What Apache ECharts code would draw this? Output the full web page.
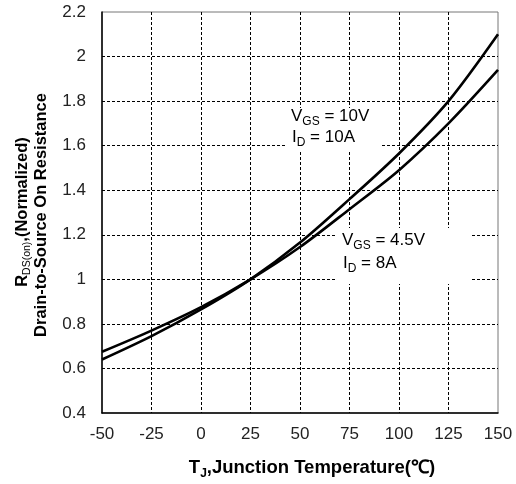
<!DOCTYPE html>
<html>
<head>
<meta charset="utf-8">
<script src="https://cdn.jsdelivr.net/npm/echarts@6/dist/echarts.min.js"></script>
<style>
html,body{margin:0;padding:0;background:#fff;}
#chart{width:516px;height:484px;}
</style>
</head>
<body>
<div id="chart"></div>
<script>
// Data
var temperatures = [-50, -25, 0, 25, 50, 75, 100, 125, 150];
var rdsSteep = [0.640, 0.745, 0.865, 1.000, 1.165, 1.360, 1.565, 1.800, 2.100];
var rdsFlat  = [0.675, 0.770, 0.875, 1.000, 1.145, 1.315, 1.490, 1.700, 1.940];
var xTicks = [-50, 150, 25];
var yTicks = [0.4, 2.2, 0.2];

function pairs(xs, ys) { return xs.map(function (x, i) { return [x, ys[i]]; }); }

var FONT = 'Liberation Sans';
var chart = echarts.init(document.getElementById('chart'), null, {renderer: 'canvas'});

var rich = {
  n: {fontFamily: FONT, fontSize: 17, color: '#111', lineHeight: 19, verticalAlign: 'bottom'},
  s: {fontFamily: FONT, fontSize: 12, color: '#111', lineHeight: 12, verticalAlign: 'bottom', padding: [0, 0, -3, 0]}
};
var richY = {
  n: {fontFamily: FONT, fontSize: 16.5, fontWeight: 'bold', color: '#000', lineHeight: 18, verticalAlign: 'bottom'},
  s: {fontFamily: FONT, fontSize: 10.5, fontWeight: 'normal', color: '#000', lineHeight: 11, verticalAlign: 'bottom', padding: [0, 0, -2, 0]}
};
var richX = {
  n: {fontFamily: FONT, fontSize: 18.5, fontWeight: 'bold', color: '#000', lineHeight: 20, verticalAlign: 'bottom'},
  s: {fontFamily: FONT, fontSize: 12, fontWeight: 'bold', color: '#000', lineHeight: 12, verticalAlign: 'bottom', padding: [0, 0, -3, 0]}
};

var option = {
  backgroundColor: '#fff',
  animation: false,
  grid: {left: 102, right: 18, top: 12, bottom: 71, show: true, borderColor: '#777', borderWidth: 1, outerBoundsMode: 'none'},
  xAxis: {
    type: 'value', min: xTicks[0], max: xTicks[1], interval: xTicks[2],
    axisLine: {show: true, onZero: false, lineStyle: {color: '#000', width: 1.5}},
    axisTick: {show: false},
    axisLabel: {fontFamily: FONT, fontSize: 17, color: '#222', margin: 13},
    splitLine: {show: true, showMinLine: false, showMaxLine: false, lineStyle: {color: '#000', type: [3, 2], width: 1}}
  },
  yAxis: {
    type: 'value', min: yTicks[0], max: yTicks[1], interval: yTicks[2],
    axisLine: {show: true, onZero: false, lineStyle: {color: '#000', width: 1.5}},
    axisTick: {show: false},
    axisLabel: {fontFamily: FONT, fontSize: 17, color: '#222', margin: 16,
      formatter: function (v) { return String(Math.round(v * 10) / 10); }},
    splitLine: {show: true, showMinLine: false, showMaxLine: false, lineStyle: {color: '#000', type: [3, 2], width: 1}}
  },
  series: [
    {type: 'line', data: pairs(temperatures, rdsSteep), smooth: 0.3, showSymbol: false,
     lineStyle: {color: '#000', width: 2.6}, z: 5},
    {type: 'line', data: pairs(temperatures, rdsFlat), smooth: 0.3, showSymbol: false,
     lineStyle: {color: '#000', width: 2.6}, z: 5}
  ],
  graphic: [
    {type: 'rect', z: 50, shape: {x: 287, y: 108, width: 94, height: 44}, style: {fill: '#fff'}},
    {type: 'text', z: 60, left: 291, top: 108, style: {text: '{n|V}{s|GS}{n| = 10V}', rich: rich}},
    {type: 'text', z: 60, left: 292, top: 129, style: {text: '{n|I}{s|D}{n| = 10A}', rich: rich}},
    {type: 'rect', z: 50, shape: {x: 336, y: 228, width: 134, height: 56}, style: {fill: '#fff'}},
    {type: 'text', z: 60, left: 342, top: 232, style: {text: '{n|V}{s|GS}{n| = 4.5V}', rich: rich}},
    {type: 'text', z: 60, left: 343, top: 255, style: {text: '{n|I}{s|D}{n| = 8A}', rich: rich}},
    {type: 'text', z: 60, x: 312, y: 467, style: {text: '{n|T}{s|J}{n|,Junction Temperature(℃)}', rich: richX, align: 'center', verticalAlign: 'middle'}},
    {type: 'text', z: 60, x: 22, y: 212, rotation: Math.PI / 2, style: {text: '{n|R}{s|DS(on)}{n|,(Normalized)}', rich: richY, align: 'center', verticalAlign: 'middle'}},
    {type: 'text', z: 60, x: 41, y: 215, rotation: Math.PI / 2, style: {text: '{n|Drain-to-Source On Resistance}', rich: richY, align: 'center', verticalAlign: 'middle'}}
  ]
};
chart.setOption(option);
</script>
</body>
</html>
